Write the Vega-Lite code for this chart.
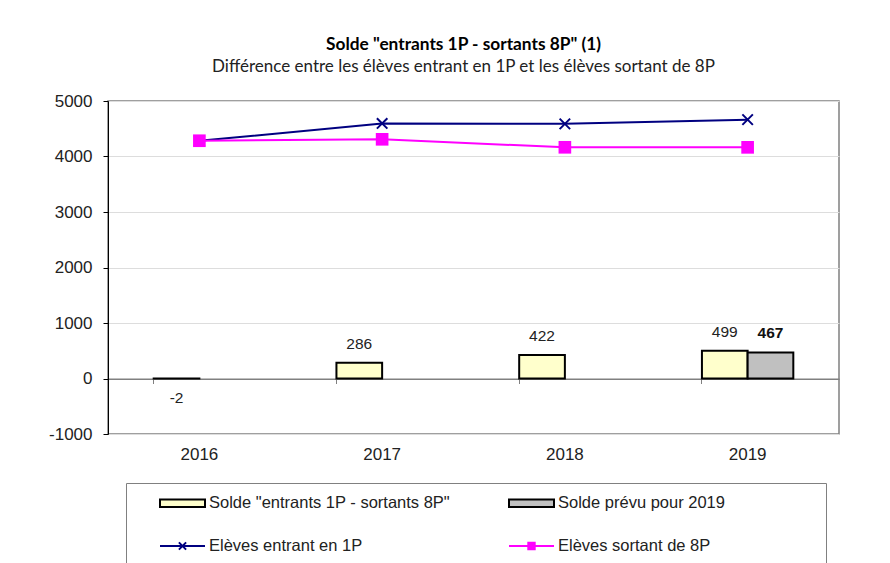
{
  "$schema": "https://vega.github.io/schema/vega-lite/v6.json",
  "width": 731,
  "height": 333,
  "autosize": {"type": "none"},
  "padding": {"left": 108, "top": 101, "right": 51, "bottom": 129},
  "background": "white",
  "title": {
    "text": "Solde  \"entrants 1P - sortants 8P\" (1)",
    "subtitle": "Différence entre les élèves  entrant en 1P  et les élèves  sortant de 8P",
    "font": "Lato",
    "fontSize": 17.3,
    "fontWeight": "bold",
    "color": "#000000",
    "subtitleFont": "Lato",
    "subtitleFontSize": 17,
    "subtitleColor": "#222222",
    "anchor": "middle",
    "frame": "group",
    "dx": -10,
    "offset": 17,
    "subtitlePadding": 6
  },
  "config": {
    "font": "Liberation Sans",
    "view": {"stroke": "#808080", "strokeWidth": 1.5}
  },
  "data": {
    "values": [
      {"kind": "bar", "year": "2016", "series": "Solde \"entrants 1P - sortants 8P\"", "value": -2},
      {"kind": "bar", "year": "2017", "series": "Solde \"entrants 1P - sortants 8P\"", "value": 286},
      {"kind": "bar", "year": "2018", "series": "Solde \"entrants 1P - sortants 8P\"", "value": 422},
      {"kind": "bar", "year": "2019", "series": "Solde \"entrants 1P - sortants 8P\"", "value": 499},
      {"kind": "bar", "year": "2019", "series": "Solde prévu pour 2019", "value": 467},
      {"kind": "line", "year": "2016", "series": "Elèves entrant en 1P", "value": 4282},
      {"kind": "line", "year": "2017", "series": "Elèves entrant en 1P", "value": 4596},
      {"kind": "line", "year": "2018", "series": "Elèves entrant en 1P", "value": 4588},
      {"kind": "line", "year": "2019", "series": "Elèves entrant en 1P", "value": 4664},
      {"kind": "line", "year": "2016", "series": "Elèves sortant de 8P", "value": 4284},
      {"kind": "line", "year": "2017", "series": "Elèves sortant de 8P", "value": 4310},
      {"kind": "line", "year": "2018", "series": "Elèves sortant de 8P", "value": 4166},
      {"kind": "line", "year": "2019", "series": "Elèves sortant de 8P", "value": 4165}
    ]
  },
  "layer": [
    {
      "transform": [{"filter": "datum.kind === 'bar'"}],
      "mark": {"type": "bar", "stroke": "#000000", "strokeWidth": 2},
      "encoding": {
        "x": {
          "field": "year", "type": "nominal",
          "scale": {"paddingInner": 0.5, "paddingOuter": 0.25},
          "axis": {"title": null, "labelAngle": 0, "labelFontSize": 17, "labelColor": "#222222", "labelPadding": 12, "ticks": false, "domain": false, "grid": false}
        },
        "xOffset": {"field": "series", "type": "nominal", "scale": {"domain": ["Solde \"entrants 1P - sortants 8P\"", "Solde prévu pour 2019"]}},
        "y": {
          "field": "value", "type": "quantitative",
          "scale": {"domain": [-1000, 5000], "nice": false, "zero": false},
          "axis": {
            "title": null,
            "values": [-1000, 0, 1000, 2000, 3000, 4000, 5000],
            "labelExpr": "'' + datum.value",
            "labelFontSize": 17,
            "labelColor": "#222222",
            "labelPadding": 11,
            "tickSize": 5,
            "tickColor": "#000000",
            "domainColor": "#000000",
            "gridColor": {"condition": {"test": "datum.value === 0", "value": "#808080"}, "value": "#DDDDDD"},
            "gridWidth": 1.2
          }
        },
        "fill": {
          "field": "series", "type": "nominal",
          "scale": {
            "domain": ["Solde \"entrants 1P - sortants 8P\"", "Solde prévu pour 2019", "Elèves entrant en 1P", "Elèves sortant de 8P"],
            "range": ["#FFFFCC", "#C0C0C0", "#000080", "#FF00FF"]
          }
        }
      }
    },
    {
      "transform": [{"filter": "false"}],
      "mark": {"type": "point", "filled": true, "opacity": 1, "strokeWidth": 2, "size": 400},
      "encoding": {
        "x": {"field": "year", "type": "nominal", "axis": null},
        "y": {"field": "value", "type": "quantitative"},
        "fill": {
          "field": "series", "type": "nominal",
          "legend": {
            "orient": "none",
            "legendX": 18,
            "legendY": 382,
            "direction": "horizontal",
            "columns": 2,
            "title": null,
            "labelFont": "Liberation Sans",
            "labelFontSize": 16.5,
            "labelColor": "#222222",
            "labelLimit": 600,
            "labelOffset": 15.5,
            "columnPadding": 33,
            "rowPadding": 23,
            "padding": 9,
            "symbolOffset": 36.5,
            "symbolSize": 400,
            "symbolStrokeWidth": 2,
            "symbolOpacity": 1,
            "strokeColor": "#808080",
            "fillColor": "#FFFFFF",
            "labelExpr": "datum.value === 'Solde prévu pour 2019' ? datum.label + '\u00a0\u00a0\u00a0\u00a0\u00a0\u00a0\u00a0\u00a0\u00a0\u00a0\u00a0\u00a0\u00a0\u00a0\u00a0\u00a0\u00a0\u00a0\u00a0\u00a0\u200b' : datum.label"
          }
        },
        "stroke": {
          "field": "series", "type": "nominal",
          "scale": {
            "domain": ["Solde \"entrants 1P - sortants 8P\"", "Solde prévu pour 2019", "Elèves entrant en 1P", "Elèves sortant de 8P"],
            "range": ["#000000", "#000000", "#000080", "#FF00FF"]
          }
        },
        "shape": {
          "field": "series", "type": "nominal",
          "scale": {
            "domain": ["Solde \"entrants 1P - sortants 8P\"", "Solde prévu pour 2019", "Elèves entrant en 1P", "Elèves sortant de 8P"],
            "range": ["M-2.25,-0.38H2.25V0.38H-2.25Z", "M-2.25,-0.38H2.25V0.38H-2.25Z", "M-2.25,0H2.25M-0.36,-0.36L0.36,0.36M-0.36,0.36L0.36,-0.36", "M-2.25,0H2.25M-0.32,-0.32H0.32V0.32H-0.32Z"]
          }
        }
      }
    },
    {
      "transform": [{"filter": "datum.series === 'Elèves entrant en 1P'"}],
      "mark": {"type": "line", "strokeWidth": 2, "color": "#000080"},
      "encoding": {
        "x": {
          "field": "year", "type": "nominal",
          "axis": {"orient": "bottom", "offset": -55.5, "labels": false, "title": null, "domainColor": "#808080", "domainWidth": 1.2, "tickColor": "#808080", "tickSize": 5, "bandPosition": 0, "grid": false}
        },
        "y": {"field": "value", "type": "quantitative"}
      }
    },
    {
      "transform": [{"filter": "datum.series === 'Elèves sortant de 8P'"}],
      "mark": {"type": "line", "strokeWidth": 2, "color": "#FF00FF"},
      "encoding": {
        "x": {"field": "year", "type": "nominal", "axis": null},
        "y": {"field": "value", "type": "quantitative"}
      }
    },
    {
      "transform": [{"filter": "datum.series === 'Elèves entrant en 1P'"}],
      "mark": {"type": "point", "shape": "M-1,-1L1,1M-1,1L1,-1", "filled": false, "strokeWidth": 2, "size": 110, "opacity": 1, "color": "#000080"},
      "encoding": {
        "x": {"field": "year", "type": "nominal", "axis": null},
        "y": {"field": "value", "type": "quantitative"}
      }
    },
    {
      "transform": [{"filter": "datum.series === 'Elèves sortant de 8P'"}],
      "mark": {"type": "point", "shape": "square", "filled": true, "size": 160, "opacity": 1, "color": "#FF00FF"},
      "encoding": {
        "x": {"field": "year", "type": "nominal", "axis": null},
        "y": {"field": "value", "type": "quantitative"}
      }
    },
    {
      "transform": [{"filter": "datum.kind === 'bar' && datum.series !== 'Solde prévu pour 2019' && datum.value >= 0"}],
      "mark": {"type": "text", "fontSize": 15.5, "color": "#222222", "dy": -19, "baseline": "middle"},
      "encoding": {
        "x": {"field": "year", "type": "nominal", "axis": null},
        "xOffset": {"field": "series", "type": "nominal"},
        "y": {"field": "value", "type": "quantitative"},
        "text": {"field": "value", "type": "nominal"}
      }
    },
    {
      "transform": [{"filter": "datum.kind === 'bar' && datum.value < 0"}],
      "mark": {"type": "text", "fontSize": 15.5, "color": "#222222", "dy": 19, "baseline": "middle"},
      "encoding": {
        "x": {"field": "year", "type": "nominal", "axis": null},
        "xOffset": {"field": "series", "type": "nominal"},
        "y": {"field": "value", "type": "quantitative"},
        "text": {"field": "value", "type": "nominal"}
      }
    },
    {
      "transform": [{"filter": "datum.series === 'Solde prévu pour 2019'"}],
      "mark": {"type": "text", "fontSize": 15.5, "fontWeight": "bold", "color": "#111111", "dy": -20, "baseline": "middle"},
      "encoding": {
        "x": {"field": "year", "type": "nominal", "axis": null},
        "xOffset": {"field": "series", "type": "nominal"},
        "y": {"field": "value", "type": "quantitative"},
        "text": {"field": "value", "type": "nominal"}
      }
    }
  ],
  "resolve": {"axis": {"x": "independent"}}
}
